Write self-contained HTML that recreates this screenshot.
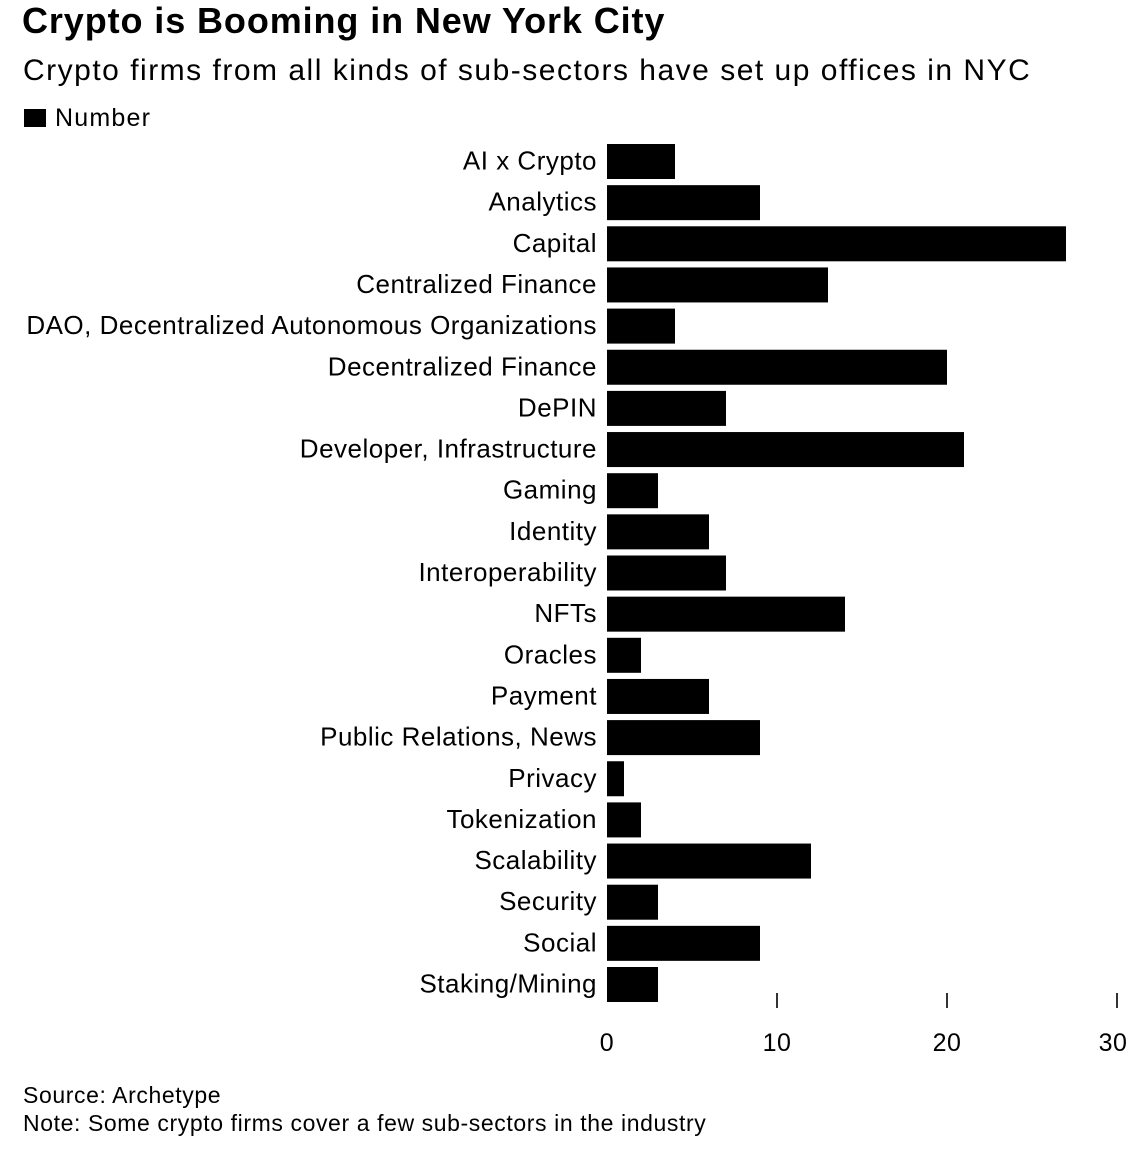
<!DOCTYPE html>
<html><head><meta charset="utf-8"><style>
body{margin:0;background:#fff;font-family:"Liberation Sans",Arial,sans-serif;color:#000}
#wrap{position:relative;width:1147px;height:1149px;overflow:hidden}
.t{position:absolute;white-space:nowrap}
</style></head><body>
<div id="wrap">
<div class="t" style="left:22px;top:0px;font-size:36px;font-weight:bold;letter-spacing:0.9px">Crypto is Booming in New York City</div>
<div class="t" style="left:23px;top:54px;font-size:30px;letter-spacing:1.5px">Crypto firms from all kinds of sub-sectors have set up offices in NYC</div>
<div class="t" style="left:24px;top:104px;font-size:25px;letter-spacing:1.2px"><span style="display:inline-block;width:22px;height:18px;background:#000;margin-right:9px;vertical-align:-1px"></span>Number</div>
<svg id="chart" width="1147" height="1149" style="position:absolute;left:0;top:0"></svg>
<div class="t" style="left:23px;top:1082px;font-size:23px;letter-spacing:0.6px">Source: Archetype</div>
<div class="t" style="left:23px;top:1110px;font-size:23px;letter-spacing:0.6px">Note: Some crypto firms cover a few sub-sectors in the industry</div>
</div>
<script>
const categories=["AI x Crypto","Analytics","Capital","Centralized Finance","DAO, Decentralized Autonomous Organizations","Decentralized Finance","DePIN","Developer, Infrastructure","Gaming","Identity","Interoperability","NFTs","Oracles","Payment","Public Relations, News","Privacy","Tokenization","Scalability","Security","Social","Staking/Mining"];
const values=[4,9,27,13,4,20,7,21,3,6,7,14,2,6,9,1,2,12,3,9,3];
const tickValues=[0,10,20,30];
const tickLabels=["0","10","20","30"];
const NS="http://www.w3.org/2000/svg";
const svg=document.getElementById('chart');
const x0=607,unit=17,top0=144,step=41.15,barH=35;
const x=v=>x0+v*unit;
const y=i=>top0+i*step;
function mk(tag,attrs){const e=document.createElementNS(NS,tag);for(const k in attrs)e.setAttribute(k,attrs[k]);svg.appendChild(e);return e;}
categories.forEach((c,i)=>{
  const r=mk('rect',{x:x(0),y:y(i),width:x(values[i])-x(0),height:barH,fill:'#000'});
  
  
  const t=mk('text',{x:597,y:y(i)+barH/2+8,'text-anchor':'end','font-size':26,'letter-spacing':0.5,'font-family':'Liberation Sans, Arial, sans-serif'});
  t.textContent=c;
  
  
});
tickValues.forEach((v,i)=>{
  if(v!==0){
    const l=mk('line',{x1:x(v),x2:x(v),y1:993,y2:1008,stroke:'#333','stroke-width':2});
    
    
  }
  const t=mk('text',{x:i===tickValues.length-1?x(v)-4:x(v),y:1051,'text-anchor':'middle','font-size':25,'letter-spacing':0.5,'font-family':'Liberation Sans, Arial, sans-serif'});
  t.textContent=tickLabels[i];
  
  
});
</script>
</body></html>
